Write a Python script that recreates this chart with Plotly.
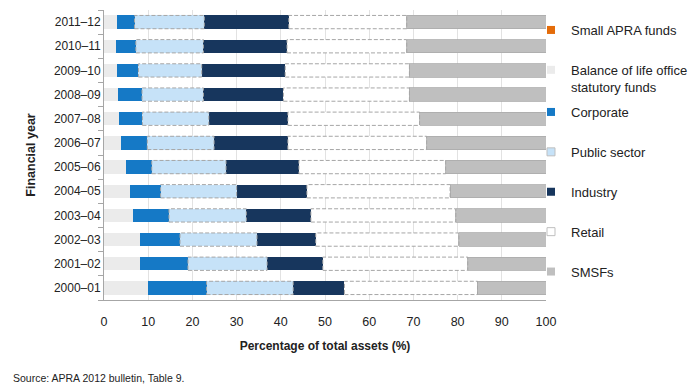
import plotly.graph_objects as go

years = ["2000–01", "2001–02", "2002–03", "2003–04", "2004–05", "2005–06",
         "2006–07", "2007–08", "2008–09", "2009–10", "2010–11", "2011–12"]

small_apra = [0.1, 0.1, 0.1, 0.1, 0.1, 0.1, 0.1, 0.1, 0.1, 0.1, 0.1, 0.1]
balance    = [9.8, 8.0, 8.0, 6.5, 5.8, 4.9, 3.7, 3.3, 3.1, 2.9, 2.7, 2.9]
corporate  = [13.3, 10.9, 9.1, 8.1, 6.9, 5.8, 6.0, 5.3, 5.4, 4.8, 4.4, 3.9]
public     = [19.6, 17.9, 17.4, 17.5, 17.2, 16.8, 15.1, 15.0, 13.9, 14.3, 15.3, 15.8]
industry   = [11.6, 12.6, 13.3, 14.6, 15.9, 16.5, 16.7, 17.9, 18.1, 18.9, 18.9, 19.1]
retail     = [30.1, 32.8, 32.4, 32.8, 32.4, 33.2, 31.4, 29.8, 28.5, 28.1, 27.1, 26.7]
smsf       = [15.5, 17.7, 19.7, 20.4, 21.7, 22.7, 27.0, 28.6, 30.9, 30.9, 31.5, 31.5]

x_ticks = [0, 10, 20, 30, 40, 50, 60, 70, 80, 90, 100]

FONT = "Liberation Sans, Arial, sans-serif"
DASH_GREY = "#A6A6A6"
BAR_WIDTH = 0.55
W, H = 700, 386
ML, MR, MT, MB = 104, 154, 10, 86
PW, PH = W - ML - MR, H - MT - MB

# (name, values, fill, outline, dashed outline, legend id)
series = [
    ("Small APRA funds", small_apra, "#E46C0A", None, False, "legend"),
    ("Balance of life office<br>statutory funds", balance, "#EBEBEB", None, False, "legend"),
    ("Corporate", corporate, "#1579C6", None, False, "legend2"),
    ("Public sector", public, "#C6E2F8", None, True, "legend2"),
    ("Industry", industry, "#17365D", None, False, "legend2"),
    ("Retail", retail, "#FFFFFF", None, True, "legend2"),
    ("SMSFs", smsf, "#BFBFBF", "#ABABAB", False, "legend2"),
]

fig = go.Figure()
shapes = []
starts = [0.0] * len(years)
for i, (name, vals, color, line_color, dashed, leg) in enumerate(series):
    grp = "g%d" % i
    fig.add_trace(go.Bar(
        y=years, x=vals, orientation="h", name=name,
        legendgroup=grp, showlegend=False,
        marker=dict(color=color,
                    line=dict(color=line_color or color, width=0.8 if line_color else 0)),
        hoverinfo="x+y+name",
    ))
    # legend entry with a small square swatch
    fig.add_trace(go.Scatter(
        x=[None], y=[None], mode="markers", name=name,
        legendgroup=grp, showlegend=True, legend=leg, hoverinfo="skip",
        marker=dict(symbol="square", size=8, color=color,
                    line=dict(color="#BFBFBF" if dashed else color, width=1 if dashed else 0)),
    ))
    if dashed:
        for j, v in enumerate(vals):
            shapes.append(dict(
                type="rect", xref="x", yref="y",
                x0=starts[j], x1=starts[j] + v,
                y0=j - BAR_WIDTH / 2, y1=j + BAR_WIDTH / 2,
                line=dict(color=DASH_GREY, width=1, dash="4px,2px"),
                fillcolor="rgba(0,0,0,0)", layer="above",
            ))
    starts = [s + v for s, v in zip(starts, vals)]

LEG_X = (W - MR) / W
legend_common = dict(
    xref="container", yref="container", x=LEG_X, xanchor="left", yanchor="top",
    traceorder="grouped", tracegroupgap=20, valign="top", indentation=-15,
    maxheight=380,
    font=dict(family=FONT, size=13, color="#222222"),
    bgcolor="rgba(0,0,0,0)", itemclick=False, itemdoubleclick=False,
)

fig.update_layout(
    width=W, height=H, autosize=False,
    margin=dict(l=ML, r=MR, t=MT, b=MB),
    barmode="stack", bargap=0.45,
    paper_bgcolor="white", plot_bgcolor="white",
    font=dict(family=FONT, size=12, color="#222222"),
    shapes=shapes,
    legend=dict(legend_common, y=1 - 15 / H),
    legend2=dict(legend_common, y=1 - 97 / H),
    xaxis=dict(
        range=[0, 100], tickvals=x_ticks, ticktext=[str(t) for t in x_ticks],
        showgrid=True, gridcolor="#E2E2E2", gridwidth=1,
        showline=True, linecolor="#A6A6A6", linewidth=1,
        zeroline=False, ticks="", ticklabelstandoff=10,
        tickfont=dict(family=FONT, size=12.5, color="#222222"),
        title=dict(text="<b>Percentage of total assets (%)</b>",
                   font=dict(family=FONT, size=12, color="#222222"), standoff=13),
        automargin=False,
    ),
    yaxis=dict(
        type="category", categoryorder="array", categoryarray=years,
        range=[-0.5, len(years) - 0.5],
        showline=True, linecolor="#A6A6A6", linewidth=1,
        ticks="outside", tickson="boundaries", ticklen=5, tickcolor="#A6A6A6",
        showgrid=False,
        tickfont=dict(family=FONT, size=12, color="#222222"),
        title=dict(text="<b>Financial year</b>",
                   font=dict(family=FONT, size=12.5, color="#222222"), standoff=15),
        automargin=False,
    ),
    annotations=[dict(
        text="Source: APRA 2012 bulletin, Table 9.",
        xref="paper", yref="paper", x=(11 - ML) / PW, y=-(378 - MT - PH) / PH,
        xanchor="left", yanchor="middle", showarrow=False,
        font=dict(family=FONT, size=10.5, color="#222222"),
    )],
)

fig.write_html("out.html", config={"displayModeBar": False},
               post_script="document.body.style.margin='0';")
